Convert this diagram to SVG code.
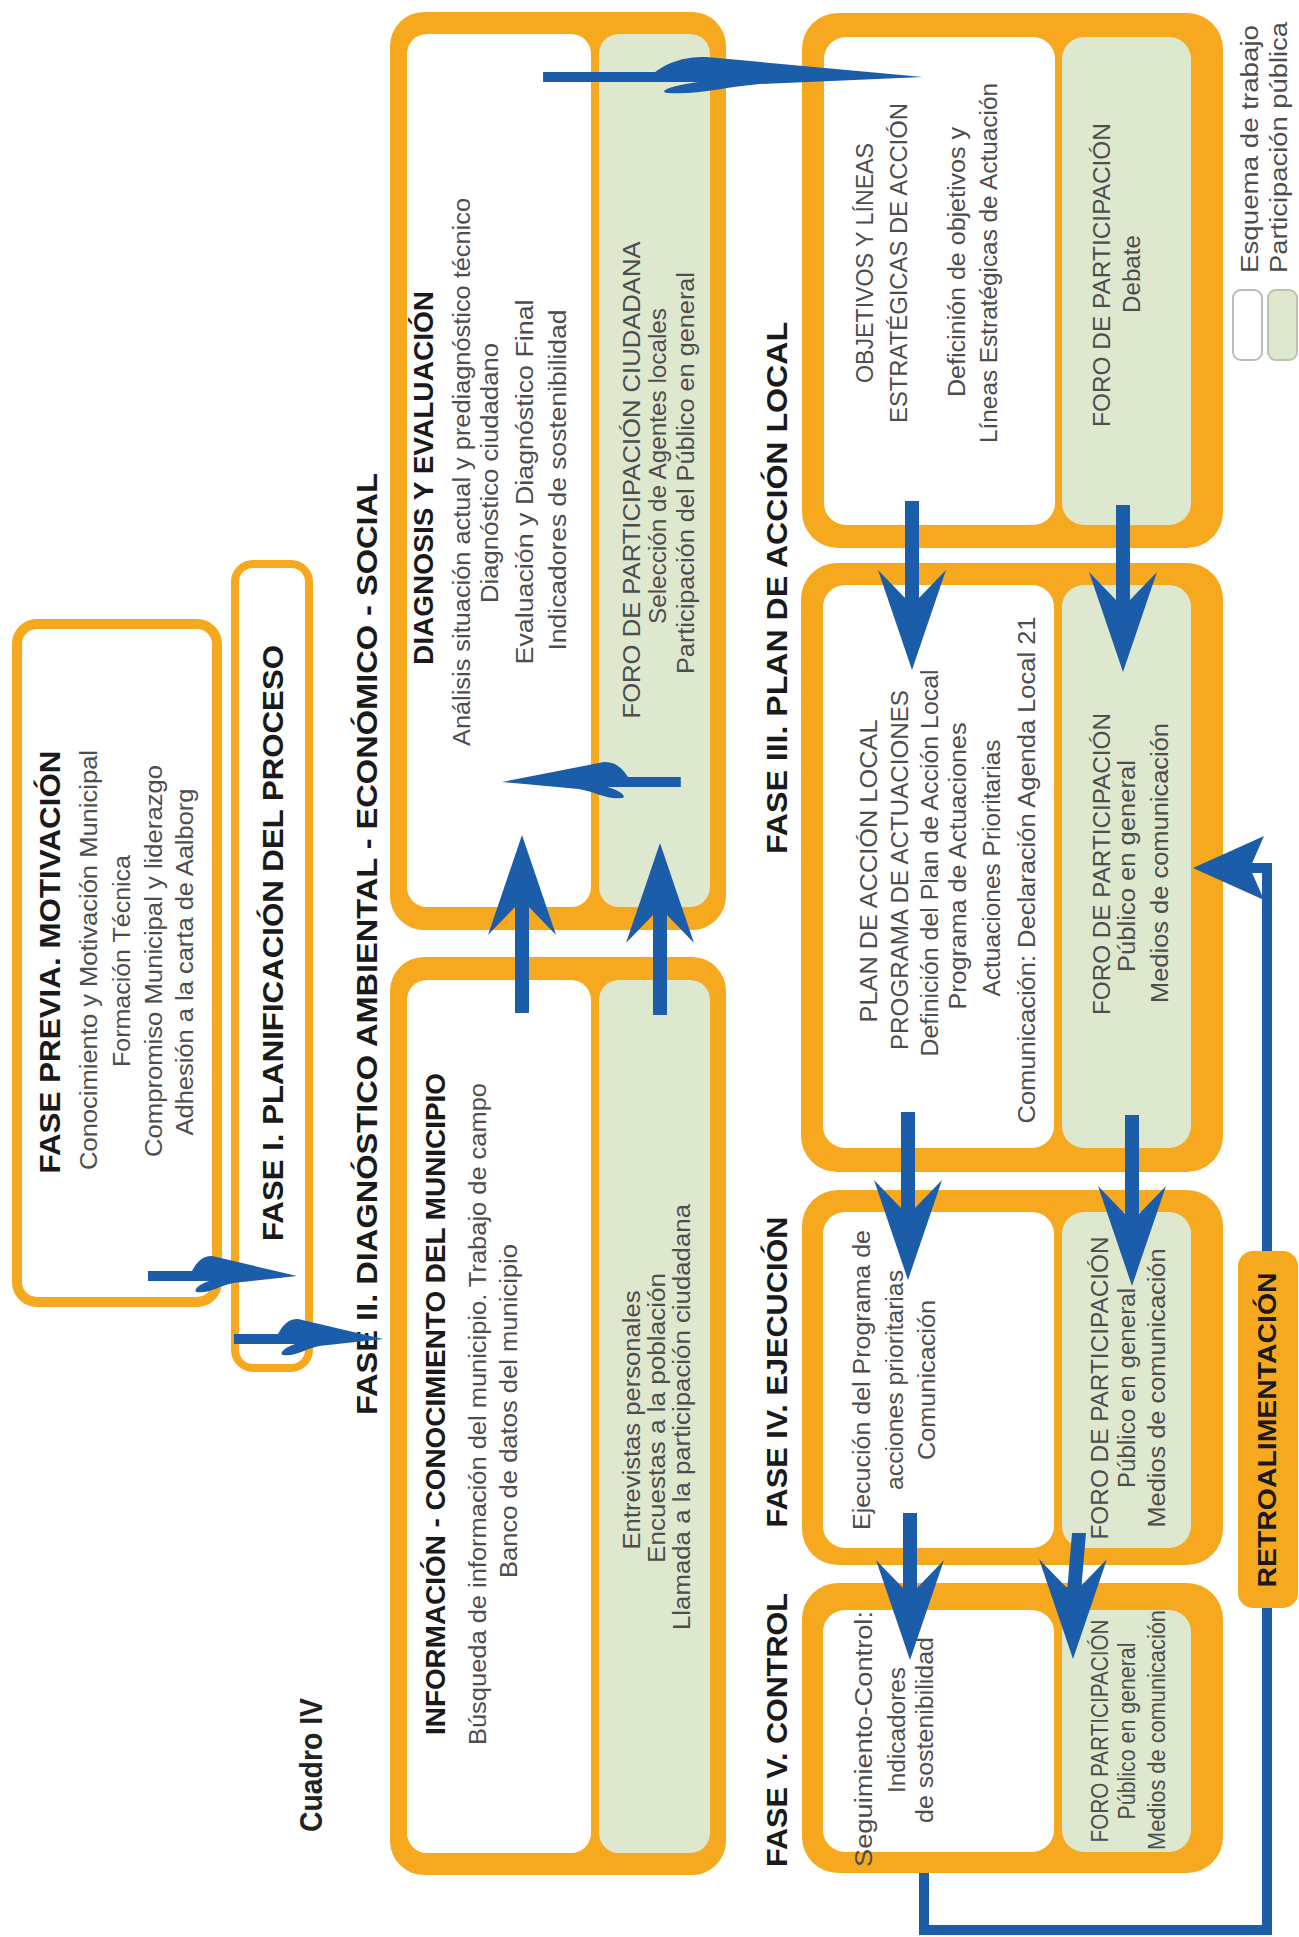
<svg xmlns="http://www.w3.org/2000/svg" width="1299" height="1937" viewBox="0 0 1299 1937">
<style>
.o{fill:#F6A81E}
.w{fill:#ffffff}
.g{fill:#DDE8CF}
.thin{fill:#ffffff;stroke:#F6A81E}
text{font-family:"Liberation Sans",Arial,sans-serif}
.b{font-size:23px;fill:#4d4d4d;text-anchor:middle}
.h{font-size:30px;font-weight:bold;fill:#1a1a1a;text-anchor:middle}
.h2{font-size:27px;font-weight:bold;fill:#1a1a1a;text-anchor:middle}
.lg{font-size:23px;fill:#4d4d4d;text-anchor:start}
.ar{fill:#1C5DAA}
.fb{fill:none;stroke:#1C5DAA;stroke-width:10;stroke-linejoin:miter}
</style>
<defs>
<path id="feather" d="M -149,-5 L -105,-5 C -100,-14 -95,-20 -85,-20 L 0,0 L -64,7 C -78,10 -88,18 -100,16 C -104,15 -100,9 -88,5 L -149,5 Z"/>
<path id="vhead" d="M -7,-72 L -34,-100 L 0,0 L 34,-100 L 7,-72 Z"/>
</defs>
<rect width="1299" height="1937" fill="#ffffff"/>

<g id="fase-previa">
<rect class="thin" x="17" y="624" width="200" height="678" rx="20" stroke-width="10"/>
<text class="h" transform="translate(60,962) rotate(-90)" textLength="423" lengthAdjust="spacingAndGlyphs">FASE PREVIA. MOTIVACIÓN</text>
<text class="b" transform="translate(97,960) rotate(-90)" textLength="420" lengthAdjust="spacingAndGlyphs">Conocimiento y Motivación Municipal</text>
<text class="b" transform="translate(130,961) rotate(-90)" textLength="212" lengthAdjust="spacingAndGlyphs">Formación Técnica</text>
<text class="b" transform="translate(162,961) rotate(-90)" textLength="392" lengthAdjust="spacingAndGlyphs">Compromiso Municipal y liderazgo</text>
<text class="b" transform="translate(193,962) rotate(-90)" textLength="347" lengthAdjust="spacingAndGlyphs">Adhesión a la carta de Aalborg</text>
</g>

<g id="fase-1">
<rect class="thin" x="235" y="564" width="74" height="804" rx="18" stroke-width="8"/>
<text class="h" transform="translate(283,943) rotate(-90)" textLength="596" lengthAdjust="spacingAndGlyphs">FASE I. PLANIFICACIÓN DEL PROCESO</text>
</g>

<g id="fase-2-title">
<text class="h" transform="translate(377,944) rotate(-90)" textLength="942" lengthAdjust="spacingAndGlyphs">FASE II. DIAGNÓSTICO AMBIENTAL - ECONÓMICO - SOCIAL</text>
</g>

<g id="diagnosis">
<rect class="o" x="390" y="12" width="336" height="918" rx="34"/>
<rect class="w" x="407" y="34" width="184" height="873" rx="20"/>
<rect class="g" x="599" y="34" width="111" height="873" rx="20"/>
<text class="h2" transform="translate(433,478) rotate(-90)" textLength="374" lengthAdjust="spacingAndGlyphs">DIAGNOSIS Y EVALUACIÓN</text>
<text class="b" transform="translate(470,472) rotate(-90)" textLength="548" lengthAdjust="spacingAndGlyphs">Análisis situación actual y prediagnóstico técnico</text>
<text class="b" transform="translate(498,473) rotate(-90)" textLength="260" lengthAdjust="spacingAndGlyphs">Diagnóstico ciudadano</text>
<text class="b" transform="translate(533,482) rotate(-90)" textLength="365" lengthAdjust="spacingAndGlyphs">Evaluación y Diagnóstico Final</text>
<text class="b" transform="translate(566,480) rotate(-90)" textLength="341" lengthAdjust="spacingAndGlyphs">Indicadores de sostenibilidad</text>
<text class="b" transform="translate(640,480) rotate(-90)" textLength="477" lengthAdjust="spacingAndGlyphs">FORO DE PARTICIPACIÓN CIUDADANA</text>
<text class="b" transform="translate(666,466) rotate(-90)" textLength="316" lengthAdjust="spacingAndGlyphs">Selección de Agentes locales</text>
<text class="b" transform="translate(694,473) rotate(-90)" textLength="402" lengthAdjust="spacingAndGlyphs">Participación del Público en general</text>
</g>

<g id="informacion">
<rect class="o" x="390" y="957" width="336" height="918" rx="34"/>
<rect class="w" x="407" y="980" width="184" height="873" rx="20"/>
<rect class="g" x="599" y="980" width="111" height="873" rx="20"/>
<text class="h2" transform="translate(445,1404) rotate(-90)" textLength="662" lengthAdjust="spacingAndGlyphs">INFORMACIÓN - CONOCIMIENTO DEL MUNICIPIO</text>
<text class="b" transform="translate(486,1414) rotate(-90)" textLength="662" lengthAdjust="spacingAndGlyphs">Búsqueda de información del municipio. Trabajo de campo</text>
<text class="b" transform="translate(517,1411) rotate(-90)" textLength="334" lengthAdjust="spacingAndGlyphs">Banco de datos del municipio</text>
<text class="b" transform="translate(640,1420) rotate(-90)" textLength="259" lengthAdjust="spacingAndGlyphs">Entrevistas personales</text>
<text class="b" transform="translate(665,1418) rotate(-90)" textLength="290" lengthAdjust="spacingAndGlyphs">Encuestas a la población</text>
<text class="b" transform="translate(690,1417) rotate(-90)" textLength="426" lengthAdjust="spacingAndGlyphs">Llamada a la participación ciudadana</text>
</g>

<g id="fase-3-title">
<text class="h" transform="translate(787,588) rotate(-90)" textLength="532" lengthAdjust="spacingAndGlyphs">FASE III. PLAN DE ACCIÓN LOCAL</text>
</g>

<g id="objetivos">
<rect class="o" x="802" y="13" width="421" height="535" rx="36"/>
<rect class="w" x="824" y="37" width="231" height="488" rx="22"/>
<rect class="g" x="1062" y="37" width="129" height="488" rx="22"/>
<text class="b" transform="translate(873,263) rotate(-90)" textLength="240" lengthAdjust="spacingAndGlyphs">OBJETIVOS Y LÍNEAS</text>
<text class="b" transform="translate(907,263) rotate(-90)" textLength="320" lengthAdjust="spacingAndGlyphs">ESTRATÉGICAS DE ACCIÓN</text>
<text class="b" transform="translate(965,262) rotate(-90)" textLength="270" lengthAdjust="spacingAndGlyphs">Deficinión de objetivos y</text>
<text class="b" transform="translate(997,263) rotate(-90)" textLength="360" lengthAdjust="spacingAndGlyphs">Líneas Estratégicas de Actuación</text>
<text class="b" transform="translate(1110,275) rotate(-90)" textLength="304" lengthAdjust="spacingAndGlyphs">FORO DE PARTICIPACIÓN</text>
<text class="b" transform="translate(1140,274) rotate(-90)" textLength="78" lengthAdjust="spacingAndGlyphs">Debate</text>
</g>

<g id="plan">
<rect class="o" x="801" y="563" width="422" height="609" rx="36"/>
<rect class="w" x="823" y="585" width="231" height="563" rx="22"/>
<rect class="g" x="1062" y="585" width="129" height="563" rx="22"/>
<text class="b" transform="translate(877,871) rotate(-90)" textLength="303" lengthAdjust="spacingAndGlyphs">PLAN DE ACCIÓN LOCAL</text>
<text class="b" transform="translate(908,870) rotate(-90)" textLength="360" lengthAdjust="spacingAndGlyphs">PROGRAMA DE ACTUACIONES</text>
<text class="b" transform="translate(938,863) rotate(-90)" textLength="387" lengthAdjust="spacingAndGlyphs">Definición del Plan de Acción Local</text>
<text class="b" transform="translate(966,866) rotate(-90)" textLength="287" lengthAdjust="spacingAndGlyphs">Programa de Actuaciones</text>
<text class="b" transform="translate(1000,868) rotate(-90)" textLength="257" lengthAdjust="spacingAndGlyphs">Actuaciones Prioritarias</text>
<text class="b" transform="translate(1035,870) rotate(-90)" textLength="507" lengthAdjust="spacingAndGlyphs">Comunicación: Declaración Agenda Local 21</text>
<text class="b" transform="translate(1110,864) rotate(-90)" textLength="302" lengthAdjust="spacingAndGlyphs">FORO DE PARTICIPACIÓN</text>
<text class="b" transform="translate(1135,866) rotate(-90)" textLength="212" lengthAdjust="spacingAndGlyphs">Público en general</text>
<text class="b" transform="translate(1168,863) rotate(-90)" textLength="280" lengthAdjust="spacingAndGlyphs">Medios de comunicación</text>
</g>

<g id="fase-4">
<text class="h" transform="translate(787,1372) rotate(-90)" textLength="311" lengthAdjust="spacingAndGlyphs">FASE IV. EJECUCIÓN</text>
<rect class="o" x="802" y="1190" width="421" height="375" rx="36"/>
<rect class="w" x="823" y="1212" width="231" height="336" rx="22"/>
<rect class="g" x="1062" y="1212" width="129" height="336" rx="22"/>
<text class="b" transform="translate(870,1380) rotate(-90)" textLength="300" lengthAdjust="spacingAndGlyphs">Ejecución del Programa de</text>
<text class="b" transform="translate(903,1380) rotate(-90)" textLength="220" lengthAdjust="spacingAndGlyphs">acciones prioritarias</text>
<text class="b" transform="translate(935,1380) rotate(-90)" textLength="160" lengthAdjust="spacingAndGlyphs">Comunicación</text>
<text class="b" transform="translate(1108,1388) rotate(-90)" textLength="303" lengthAdjust="spacingAndGlyphs">FORO DE PARTICIPACIÓN</text>
<text class="b" transform="translate(1135,1388) rotate(-90)" textLength="200" lengthAdjust="spacingAndGlyphs">Público en general</text>
<text class="b" transform="translate(1165,1388) rotate(-90)" textLength="279" lengthAdjust="spacingAndGlyphs">Medios de comunicación</text>
</g>

<g id="fase-5">
<text class="h" transform="translate(787,1730) rotate(-90)" textLength="274" lengthAdjust="spacingAndGlyphs">FASE V. CONTROL</text>
<rect class="o" x="802" y="1583" width="421" height="290" rx="36"/>
<rect class="w" x="823" y="1610" width="231" height="242" rx="22"/>
<rect class="g" x="1062" y="1610" width="129" height="242" rx="22"/>
<text class="b" transform="translate(872,1739) rotate(-90)" textLength="256" lengthAdjust="spacingAndGlyphs">Seguimiento-Control:</text>
<text class="b" transform="translate(905,1730) rotate(-90)" textLength="126" lengthAdjust="spacingAndGlyphs">Indicadores</text>
<text class="b" transform="translate(933,1730) rotate(-90)" textLength="186" lengthAdjust="spacingAndGlyphs">de sostenibilidad</text>
<text class="b" transform="translate(1108,1731) rotate(-90)" textLength="223" lengthAdjust="spacingAndGlyphs">FORO PARTICIPACIÓN</text>
<text class="b" transform="translate(1135,1731) rotate(-90)" textLength="177" lengthAdjust="spacingAndGlyphs">Público en general</text>
<text class="b" transform="translate(1165,1730) rotate(-90)" textLength="240" lengthAdjust="spacingAndGlyphs">Medios de comunicación</text>
</g>

<g id="connectors">
<path class="fb" d="M924,1873 L924,1930 L1267,1930 L1267,868 L1248,868"/>
<polygon class="ar" points="1193,868 1264,836 1250,868 1264,900"/>
<use href="#feather" class="ar" transform="translate(297,1276)"/>
<use href="#feather" class="ar" transform="translate(383,1339)"/>
<use href="#feather" class="ar" transform="translate(923,77) scale(2.55,1)"/>
<use href="#feather" class="ar" transform="translate(502,782) scale(-1.2,1)"/>
<rect class="ar" x="515" y="900" width="14" height="113"/>
<use href="#vhead" class="ar" transform="translate(522,835) scale(1,-1)"/>
<rect class="ar" x="653" y="908" width="14" height="107"/>
<use href="#vhead" class="ar" transform="translate(660,843) scale(1,-1)"/>
<rect class="ar" x="905" y="501" width="14" height="100"/>
<use href="#vhead" class="ar" transform="translate(912,670)"/>
<rect class="ar" x="1116" y="505" width="14" height="100"/>
<use href="#vhead" class="ar" transform="translate(1123,672)"/>
<rect class="ar" x="901" y="1112" width="14" height="100"/>
<use href="#vhead" class="ar" transform="translate(908,1280)"/>
<rect class="ar" x="1125" y="1115" width="14" height="103"/>
<use href="#vhead" class="ar" transform="translate(1132,1286)"/>
<rect class="ar" x="903" y="1513" width="14" height="80"/>
<use href="#vhead" class="ar" transform="translate(910,1660)"/>
<path class="ar" d="M1072,1533 L1067,1592 L1081,1592 L1086,1533 Z"/>
<use href="#vhead" class="ar" transform="translate(1073,1659)"/>
</g>

<g id="retroalimentacion">
<rect class="o" x="1238" y="1251" width="60" height="357" rx="15"/>
<text class="h2" style="font-size:26px" transform="translate(1276,1430) rotate(-90)" textLength="315" lengthAdjust="spacingAndGlyphs">RETROALIMENTACIÓN</text>
</g>

<g id="legend">
<rect x="1233" y="290" width="29" height="70" rx="8" fill="#ffffff" stroke="#bbbbbb" stroke-width="2"/>
<rect x="1268" y="290" width="29" height="70" rx="8" fill="#DDE8CF" stroke="#b9c6a6" stroke-width="2"/>
<text class="lg" transform="translate(1258,273) rotate(-90)" textLength="248" lengthAdjust="spacingAndGlyphs">Esquema de trabajo</text>
<text class="lg" transform="translate(1287,273) rotate(-90)" textLength="251" lengthAdjust="spacingAndGlyphs">Participación pública</text>
</g>

<g id="caption">
<text transform="translate(322,1765) rotate(-90)" style="font-size:32px;font-weight:bold;fill:#222;text-anchor:middle" textLength="134" lengthAdjust="spacingAndGlyphs">Cuadro IV</text>
</g>
</svg>
